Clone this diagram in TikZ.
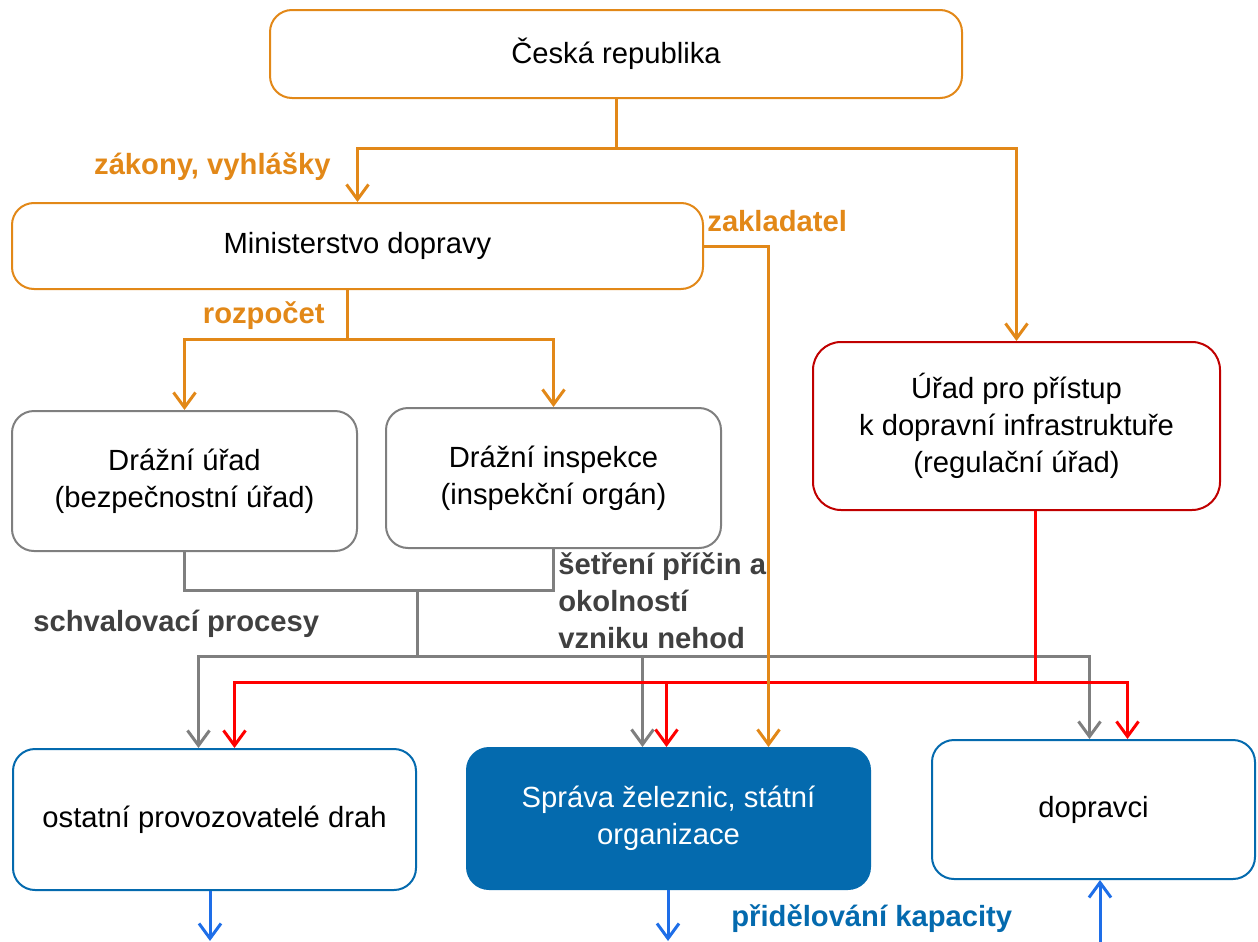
\documentclass[tikz,border=0pt]{standalone}
\usepackage{fontspec}
\setmainfont{Liberation Sans}
\usetikzlibrary{arrows.meta}
\definecolor{oranz}{RGB}{226,136,24}
\definecolor{seda}{RGB}{127,127,127}
\definecolor{tmseda}{RGB}{64,64,64}
\definecolor{cerv}{RGB}{192,0,0}
\definecolor{jcerv}{RGB}{255,0,0}
\definecolor{modra}{RGB}{4,106,174}
\definecolor{smodra}{RGB}{30,110,232}
\tikzset{
  box/.style={draw, rounded corners=11pt, line width=1pt, align=center, inner sep=0pt,
    font=\fontsize{14.6}{18.5}\selectfont},
  lbl/.style={inner sep=0pt, align=left, font=\fontsize{14.6}{18.5}\selectfont\bfseries},
  sipka/.style={line width=1.5pt, -{Straight Barb[length=7.5pt,width=11pt]}}
}
\begin{document}
\begin{tikzpicture}[x=0.5pt,y=-0.5pt]
\useasboundingbox (0,0) rectangle (1258,942);

\node[box,oranz,text=black,minimum width=346pt,minimum height=44pt] (cr) at (616,54) {Česká republika};
\node[box,oranz,text=black,minimum width=345.5pt,minimum height=43pt] (md) at (357.5,246) {Ministerstvo dopravy};
\node[box,seda,text=black,minimum width=172.5pt,minimum height=70pt] (du) at (184.5,481) {Drážní úřad\\(bezpečnostní úřad)};
\node[box,seda,text=black,minimum width=167.5pt,minimum height=70pt] (di) at (553.5,478) {Drážní inspekce\\(inspekční orgán)};
\node[box,cerv,text=black,rounded corners=14pt,minimum width=203.5pt,minimum height=84pt] (udi) at (1016.5,426) {Úřad pro přístup\\k dopravní infrastruktuře\\(regulační úřad)};
\node[box,modra,text=black,minimum width=201.5pt,minimum height=70.5pt] (opd) at (214.5,819.5) {ostatní provozovatelé drah};
\node[box,modra,fill=modra,text=white,minimum width=201.5pt,minimum height=70.5pt] (szs) at (668.5,818.5) {Správa železnic, státní\\organizace};
\node[box,modra,text=black,minimum width=161.5pt,minimum height=69.5pt] (dop) at (1093.5,809.5) {dopravci};

\coordinate (j1) at (616,148);
\coordinate (j2) at (347,339);
\coordinate (g1) at (417,590);
\coordinate (g2) at (417,656);
\coordinate (r1) at (1035,682);
\coordinate (b1) at (210,941);
\coordinate (b2) at (668,941);
\coordinate (b3) at (1100,942);

\draw[sipka,oranz] (cr.south) -- (j1) -| (md.north);
\draw[sipka,oranz] (j1) -| (udi.north);
\draw[sipka,oranz] (md.south -| j2) -- (j2) -| (du.north);
\draw[sipka,oranz] (j2) -| (di.north);

\draw[seda,line width=1.5pt] (du.south) |- (g1) -| (di.south);
\draw[seda,line width=1.5pt] (g1) -- (g2);
\draw[sipka,seda] (g2) -| ([xshift=-8pt]opd.north);
\draw[sipka,seda] (g2) -| ([xshift=-2pt]dop.north);
\draw[sipka,seda] ([xshift=-13pt]szs.north |- g2) -- ([xshift=-13pt]szs.north);

\draw[sipka,jcerv] (r1 |- udi.south) -- (r1) -| ([xshift=10pt]opd.north);
\draw[sipka,jcerv] (r1) -| ([xshift=17pt]dop.north);
\draw[sipka,jcerv] ([xshift=-1pt]szs.north |- r1) -- ([xshift=-1pt]szs.north);

\draw[sipka,oranz] (md.east) -| ([xshift=50pt]szs.north);

\draw[sipka,smodra] (opd.south -| b1) -- (b1);
\draw[sipka,smodra] (szs.south -| b2) -- (b2);
\draw[sipka,smodra] (b3) -- (dop.south -| b3);

\node[lbl,oranz,anchor=base east] (zv) at (331,174) {zákony, vyhlášky};
\node[lbl,oranz,anchor=base east] (rp) at (325,323) {rozpočet};
\node[lbl,oranz,anchor=base west] (zk) at (707,231) {zakladatel};
\node[lbl,tmseda,anchor=base west] (sp) at (33,631) {schvalovací procesy};
\node[lbl,tmseda,anchor=north west] (sn) at (558,552) {šetření příčin a\\okolností\\vzniku nehod};
\node[lbl,modra,anchor=base west] (pk) at (731,926) {přidělování kapacity};
\end{tikzpicture}
\end{document}
